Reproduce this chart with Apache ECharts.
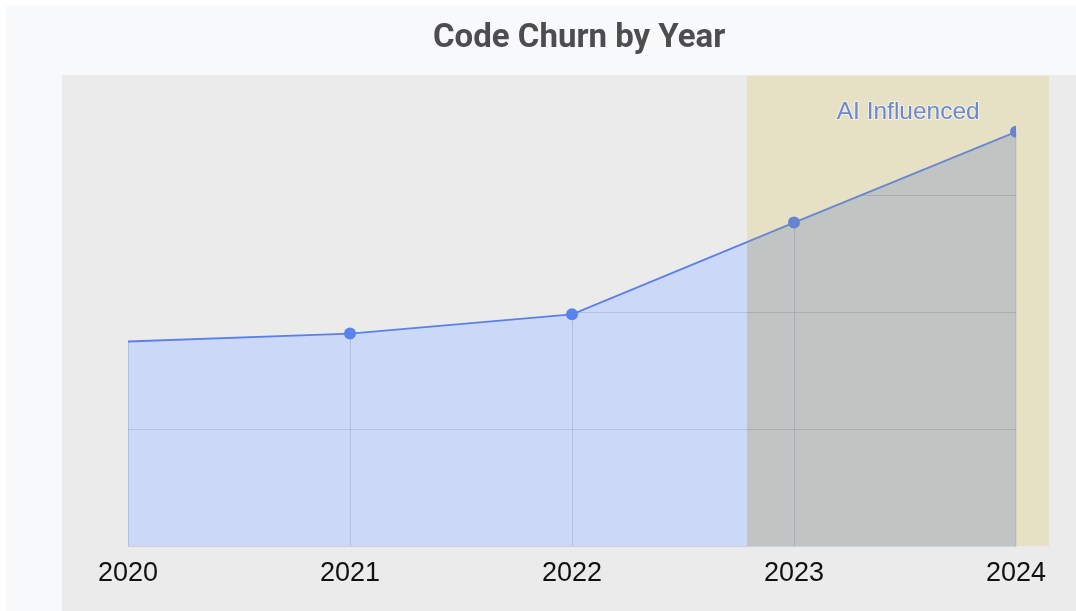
<!DOCTYPE html>
<html>
<head>
<meta charset="utf-8">
<script src="https://cdn.jsdelivr.net/npm/echarts@6/dist/echarts.min.js"></script>
<style>html,body{margin:0;padding:0;background:#fff;}#c{width:1076px;height:611px;}</style>
</head>
<body>
<div id="c"></div>
<script>
const years = ['2020', '2021', '2022', '2023', '2024'];
const churn = [43.7, 45.4, 49.5, 69.1, 88.5];
const yMax = 100;
const yInterval = 25;
const bandStart = 2.79;          // year-index where the highlighted band begins
const bandLabel = 'AI Influenced';
const titleText = 'Code Churn by Year';

const chart = echarts.init(document.getElementById('c'), null, {renderer: 'canvas'});
const last = years.length - 1;
const f = bandStart / last;

function hGrad(c1, c2) {
  return new echarts.graphic.LinearGradient(0, 0, 1, 0, [
    {offset: 0, color: c1}, {offset: f, color: c1},
    {offset: f, color: c2}, {offset: 1, color: c2}
  ]);
}

const pts = churn.map((v, i) => [i, v]);
const linePts = pts.map((p, i) => i === last
  ? {value: p, symbol: 'path://M10 0A10 10 0 0 0 10 20Z', symbolSize: [6, 12], symbolOffset: [-3, 0]}
  : {value: p});

const gridColor = 'rgba(60,70,110,0.16)';

const option = {
  backgroundColor: '#ffffff',
  animation: false,
  title: {
    text: titleText,
    left: 428, top: 17,
    textStyle: {fontFamily: 'Roboto', fontWeight: 'bold', fontSize: 33, color: '#4d4d4d'}
  },
  grid: {left: 128, right: 60, top: 78, bottom: 65},
  xAxis: {
    type: 'value', min: 0, max: last, interval: 1, z: 2,
    axisLine: {show: false}, axisTick: {show: false},
    axisLabel: {
      formatter: v => years[v] !== undefined ? years[v] : '',
      fontFamily: 'Liberation Sans, Arial, sans-serif', fontSize: 27, color: '#111111', margin: 14
    },
    splitLine: {show: true, showMaxLine: false, lineStyle: {color: gridColor, width: 1}}
  },
  yAxis: {
    type: 'value', min: 0, max: yMax, interval: yInterval, z: 2,
    axisLine: {show: false}, axisTick: {show: false}, axisLabel: {show: false},
    splitLine: {show: true, lineStyle: {color: gridColor, width: 1}}
  },
  series: [
    {
      name: 'area', type: 'line', data: pts, z: 1, silent: true,
      symbol: 'none', lineStyle: {width: 0, opacity: 0},
      areaStyle: {color: hGrad('#cbd8f8', '#c0c4c2'), opacity: 1}
    },
    {
      name: 'cover', type: 'line', data: pts, z: 3, silent: true,
      symbol: 'none', lineStyle: {width: 0, opacity: 0},
      areaStyle: {origin: 'end', color: hGrad('#ebebeb', '#e6e0c4'), opacity: 1}
    },
    {
      name: 'Code Churn', type: 'line', data: linePts, z: 4, clip: false,
      symbol: 'circle',
      symbolSize: (val, params) => params.dataIndex === 0 ? 0 : 12,
      lineStyle: {width: 1.8, color: hGrad('#5b80ea', '#6a86d0')},
      itemStyle: {color: params => params.value[0] > bandStart ? '#6683d0' : '#5a82ec'}
    }
  ]
};
chart.setOption(option);

const bx = chart.convertToPixel({xAxisIndex: 0}, bandStart);
const gx0 = chart.convertToPixel({xAxisIndex: 0}, 0);
const gx1 = chart.convertToPixel({xAxisIndex: 0}, last);
const gyTop = chart.convertToPixel({yAxisIndex: 0}, yMax);
const gyBot = chart.convertToPixel({yAxisIndex: 0}, 0);
const bandRight = gx1 + 33;

chart.setOption({
  graphic: [
    {type: 'rect', z: -10, shape: {x: 6, y: 6, width: 1200, height: 700}, style: {fill: '#f8f9fa'}},
    {type: 'rect', z: -9, shape: {x: gx0 - 66, y: gyTop - 3, width: 1200, height: 700}, style: {fill: '#ebebeb'}},
    {type: 'rect', z: -8, shape: {x: bx, y: gyTop - 2, width: bandRight - bx, height: gyBot - gyTop + 2}, style: {fill: '#e6e0c4'}},
    {type: 'line', z: 1, shape: {x1: gx1, y1: chart.convertToPixel({yAxisIndex: 0}, churn[last]), x2: gx1, y2: gyBot},
      style: {stroke: gridColor, lineWidth: 1}},
    {type: 'text', z: 100, x: (bx + bandRight) / 2 + 10, y: gyTop + 34,
      style: {text: bandLabel, fill: '#6d89cc', font: '24.5px "Liberation Sans", Arial, sans-serif',
        align: 'center', verticalAlign: 'middle', stroke: 'rgba(255,255,255,0.55)', lineWidth: 2}}
  ]
});
</script>
</body>
</html>
